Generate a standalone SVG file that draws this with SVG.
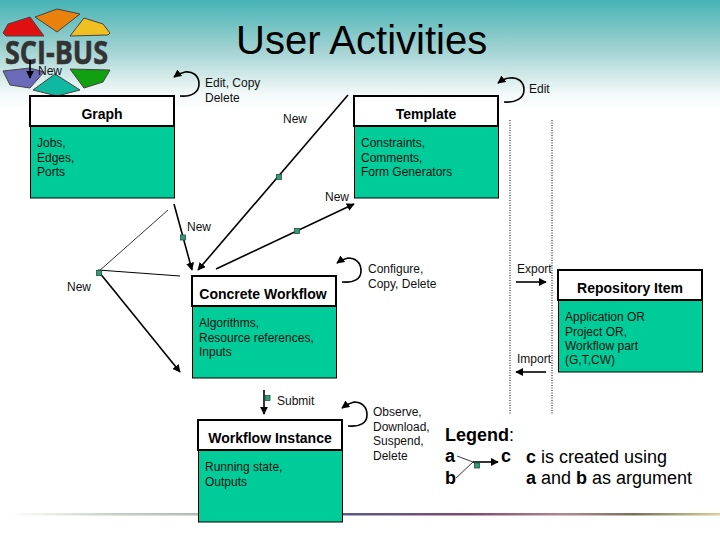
<svg xmlns="http://www.w3.org/2000/svg" width="720" height="540" viewBox="0 0 720 540">
<style>
text{font-family:"Liberation Sans",Arial,sans-serif;fill:#111;font-size:12px}
.t{font-weight:bold;font-size:14px;text-anchor:middle;fill:#000}
.head{fill:#fff;stroke:#000;stroke-width:2}
.body{fill:#00cc99;stroke:#000;stroke-width:1}
.c{fill:none;stroke:#000;stroke-width:1.6}
.thin{fill:none;stroke:#000;stroke-width:.8}
.dot{fill:none;stroke:#000;stroke-width:1;stroke-dasharray:1 1.5}
.m{fill:#339977;stroke:#1a5544;stroke-width:.8}
.lg{font-size:18px;fill:#000}
.b{font-weight:bold}
.p{stroke:#444;stroke-width:1;stroke-linejoin:round}
</style>
<defs>
<linearGradient id="bg" x1="0" y1="0" x2="0" y2="1"><stop offset="0" stop-color="#46b3b5"/><stop offset=".45" stop-color="#a2d2d2"/><stop offset=".85" stop-color="#f2f9f8"/><stop offset="1" stop-color="#fff"/></linearGradient>
<linearGradient id="rule" x1="0" y1="0" x2="1" y2="0"><stop offset="0" stop-color="#fff"/><stop offset=".15" stop-color="#c4cfc4"/><stop offset=".3" stop-color="#a8b8b0"/><stop offset=".48" stop-color="#5a5a80"/><stop offset=".65" stop-color="#804a70"/><stop offset=".78" stop-color="#b08a90"/><stop offset=".88" stop-color="#77705a"/><stop offset="1" stop-color="#d8d49a"/></linearGradient>
<marker id="a" viewBox="0 0 10 10" refX="9" refY="5" markerWidth="5" markerHeight="5" markerUnits="strokeWidth" orient="auto"><path d="M0 0L10 5L0 10Z" fill="#000"/></marker>
</defs>
<rect width="720" height="110" fill="url(#bg)"/>
<rect x="10" y="513" width="710" height="2.5" fill="url(#rule)"/>
<g id="logo">
<path class="p" d="M35 17L57 9L80 14L57 32Z" fill="#e8820c"/>
<path class="p" d="M3 33L8 24L30 17L44 36L6 36Z" fill="#e01010"/>
<path class="p" d="M70 36L84 18L103 24L110 33L108 35Z" fill="#f0c020"/>
<path class="p" d="M3 71L30 68L44 72L30 88L10 85Z" fill="#6a6ab8"/>
<path class="p" d="M70 69L110 70L103 82L84 88Z" fill="#10a010"/>
<path class="p" d="M33 90L55 74L80 90L57 96Z" fill="#10b8a0"/>
<text x="5" y="64" textLength="103" lengthAdjust="spacingAndGlyphs" style="font-family:'Open Sans','Liberation Sans',sans-serif;font-size:33px;font-weight:bold;fill:#333;stroke:#333;stroke-width:.6">SCI-BUS</text>
</g>
<text id="title" x="236" y="54" style="font-size:40px;fill:#000">User Activities</text>
<g id="connectors">
<path class="c" marker-end="url(#a)" d="M30 60V78"/>
<path class="c" marker-end="url(#a)" d="M180 96C192 97 199 92 199 84C199 75 192 71 185 72C181 73 178 74 174 77"/>
<path class="c" marker-end="url(#a)" d="M504 102C516 103 524 98 524 90C524 81 517 77 510 78C506 78 502 80 498 83"/>
<path class="c" marker-end="url(#a)" d="M342 282C354 283 361 279 361 271C361 262 355 258 348 258C344 259 341 260 337 263"/>
<path class="c" marker-end="url(#a)" d="M348 426C360 427 367 423 367 415C367 406 361 402 354 402C350 403 346 405 342 408"/>
<path class="c" marker-end="url(#a)" d="M348 95L198 270"/>
<path class="c" marker-end="url(#a)" d="M174 204L192 270"/>
<path class="c" marker-end="url(#a)" d="M216 269L354 204"/>
<path class="thin" d="M168 210L98 272"/>
<path class="thin" style="stroke-width:1" d="M98 270L180 276"/>
<path class="c" marker-end="url(#a)" d="M99 272L180 372"/>
<path class="c" marker-end="url(#a)" d="M264 390V414"/>
<path class="dot" d="M510 120V414M552 120V414"/>
<path class="c" marker-end="url(#a)" d="M516 282H546"/>
<path class="c" marker-end="url(#a)" d="M546 372H516"/>
<path class="thin" d="M457 456L473 462M456 478L473 462"/>
<path class="c" marker-end="url(#a)" d="M473 462H498"/>
<rect class="m" x="276.500" y="174.500" width="5" height="5"/>
<rect class="m" x="180.500" y="235" width="5" height="5"/>
<rect class="m" x="294.500" y="228.500" width="5" height="5"/>
<rect class="m" x="96.500" y="270.500" width="5" height="5"/>
<rect class="m" x="265" y="395.500" width="5" height="5"/>
<rect class="m" x="474.500" y="463" width="5" height="5"/>
</g>
<g id="graph">
<rect class="body" x="30.500" y="126" width="144" height="72"/>
<rect class="head" x="30" y="96" width="144" height="30"/>
<text class="t" x="102" y="119">Graph</text>
<text x="37" y="147">Jobs,</text><text x="37" y="162">Edges,</text><text x="37" y="176">Ports</text>
</g>
<g id="template">
<rect class="body" x="354.500" y="126" width="144" height="72"/>
<rect class="head" x="354" y="96" width="144" height="30"/>
<text class="t" x="426" y="119">Template</text>
<text x="361" y="147">Constraints,</text><text x="361" y="162">Comments,</text><text x="361" y="176">Form Generators</text>
</g>
<g id="concrete">
<rect class="body" x="192.500" y="306" width="144" height="72"/>
<rect class="head" x="192" y="276" width="144" height="30"/>
<text class="t" x="263" y="299">Concrete Workflow</text>
<text x="199" y="327">Algorithms,</text><text x="199" y="342">Resource references,</text><text x="199" y="356">Inputs</text>
</g>
<g id="repository">
<rect class="body" x="558.500" y="300" width="144" height="72"/>
<rect class="head" x="558" y="270" width="144" height="30"/>
<text class="t" x="630" y="293">Repository Item</text>
<text x="565" y="321">Application OR</text><text x="565" y="336">Project OR,</text><text x="565" y="350">Workflow part</text><text x="565" y="364">(G,T,CW)</text>
</g>
<g id="instance">
<rect class="body" x="198.500" y="450" width="144" height="72"/>
<rect class="head" x="198" y="420" width="144" height="30"/>
<text class="t" x="270" y="443">Workflow Instance</text>
<text x="205" y="471">Running state,</text><text x="205" y="486">Outputs</text>
</g>
<g id="labels">
<text x="38" y="75">New</text>
<text x="205" y="87">Edit, Copy</text><text x="205" y="102">Delete</text>
<text x="529" y="93">Edit</text>
<text x="283" y="123">New</text>
<text x="325" y="201">New</text>
<text x="187" y="231">New</text>
<text x="67" y="291">New</text>
<text x="368" y="273">Configure,</text><text x="368" y="288">Copy, Delete</text>
<text x="517" y="273">Export</text>
<text x="517" y="363">Import</text>
<text x="277" y="405">Submit</text>
<text x="373" y="416">Observe,</text><text x="373" y="431">Download,</text><text x="373" y="445">Suspend,</text><text x="373" y="460">Delete</text>
</g>
<g id="legend">
<text class="lg" x="445" y="441"><tspan class="b">Legend</tspan>:</text>
<text class="lg b" x="445" y="462">a</text>
<text class="lg b" x="445" y="484">b</text>
<text class="lg b" x="501" y="462">c</text>
<text class="lg" x="526" y="463"><tspan class="b">c</tspan> is created using</text>
<text class="lg" x="526" y="484"><tspan class="b">a</tspan> and <tspan class="b">b</tspan> as argument</text>
</g>
</svg>
